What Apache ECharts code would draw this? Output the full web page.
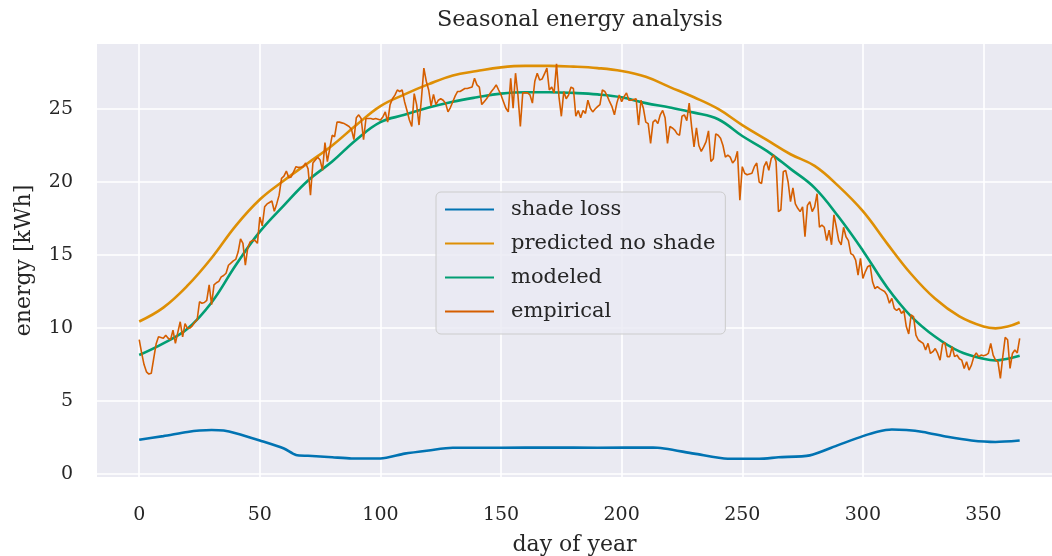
<!DOCTYPE html>
<html><head><meta charset="utf-8">
<script src="https://cdn.jsdelivr.net/npm/echarts@6/dist/echarts.min.js"></script>
<style>html,body{margin:0;padding:0;background:#fff}#c{width:1052px;height:556px}</style>
</head><body><div id="c"></div>
<script>
const xTicks = [0, 50, 100, 150, 200, 250, 300, 350];
const yTicks = [0, 5, 10, 15, 20, 25];

const curveDays = [0,10,20,30,40,50,60,70,80,90,100,110,120,130,140,150,160,170,180,190,200,210,220,230,240,250,260,270,280,290,300,310,320,330,340,350,355,360,365];
const predictedNoShade = [10.45,11.4,12.9,14.8,17.0,18.8,20.1,21.3,22.5,23.9,25.2,26.0,26.7,27.3,27.6,27.85,27.95,27.95,27.9,27.8,27.6,27.2,26.5,25.8,25.0,23.9,22.9,21.9,21.1,19.7,18.0,15.8,13.7,12.0,10.8,10.1,9.98,10.1,10.4];
const modeled = [8.15,8.95,9.95,11.75,14.3,16.6,18.4,20.1,21.4,22.9,24.1,24.6,25.1,25.5,25.8,26.05,26.15,26.15,26.1,26.0,25.8,25.4,25.1,24.75,24.3,23.15,22.15,20.9,19.6,17.6,15.3,12.8,10.8,9.4,8.4,7.9,7.78,7.9,8.1];

const shadeDays = [0,10,20,25,30,35,40,50,60,65,70,80,88,100,110,120,130,150,170,190,213,230,244,257,265,278,290,300,306,312,318,325,335,345,355,365];
const shadeLoss = [2.35,2.6,2.88,2.98,3.02,2.98,2.8,2.3,1.75,1.3,1.25,1.15,1.07,1.07,1.4,1.62,1.8,1.8,1.82,1.8,1.82,1.4,1.05,1.05,1.15,1.28,2.0,2.6,2.9,3.05,3.02,2.88,2.55,2.3,2.2,2.3];

const empirical = [
9.2,8.3,7.5,7.0,6.85,6.9,7.9,8.9,9.4,9.35,
9.3,9.5,9.3,9.2,9.86,8.95,9.7,10.43,9.4,10.3,
9.98,10.0,10.15,10.4,10.55,11.8,11.7,11.75,11.9,12.95,
11.6,12.95,13.1,13.2,13.5,13.6,13.75,14.3,14.45,14.6,
14.7,15.2,16.1,15.8,14.3,15.5,15.9,16.0,16.0,15.8,
17.6,17.0,18.3,18.5,18.6,18.7,18.0,18.5,19.1,20.25,
20.4,20.75,20.3,20.35,20.7,21.05,21.0,21.0,21.05,21.3,
20.9,19.1,21.3,21.5,21.7,21.5,20.8,22.7,21.4,22.3,
23.2,23.1,24.1,24.1,24.05,24.0,23.9,23.8,23.6,22.9,
24.4,24.6,24.35,22.9,24.35,24.35,24.35,24.3,24.35,24.3,
24.25,24.45,24.8,24.1,25.3,25.7,25.95,26.3,26.2,26.3,
25.5,24.9,24.25,23.8,26.05,25.3,23.9,25.7,27.8,26.9,
26.3,25.2,26.0,25.3,25.6,25.7,25.6,25.4,24.8,25.1,
25.5,25.9,26.2,26.2,26.3,26.4,26.4,26.45,26.5,27.1,
26.65,26.5,25.3,25.5,25.7,25.96,26.2,26.4,26.65,26.3,
25.96,25.5,25.05,24.8,27.1,25.05,27.45,25.96,23.8,26.1,
26.1,26.1,25.96,25.4,26.9,27.45,26.99,27.05,27.4,27.8,
26.3,26.5,26.1,28.1,25.85,24.5,26.2,25.7,25.96,26.5,
26.4,24.5,24.9,24.4,24.9,24.7,25.6,25.05,24.8,25.0,
25.16,25.3,26.3,26.2,25.9,25.5,25.16,24.6,25.4,25.96,
25.5,25.85,26.1,25.6,25.6,25.65,25.7,23.9,25.6,25.05,
24.1,24.0,22.65,24.1,24.25,24.0,24.6,24.9,24.4,22.65,
23.8,23.7,23.56,23.3,23.2,24.5,24.6,24.2,25.4,23.79,
22.4,23.7,22.5,22.1,22.4,22.76,23.5,21.4,21.6,23.3,
23.2,23.0,22.5,21.7,21.85,21.7,21.3,21.5,22.1,18.76,
21.05,20.6,20.5,20.55,20.6,21.05,21.3,20.0,19.9,21.05,
21.4,20.8,21.6,21.85,21.4,17.97,18.1,20.7,20.8,20.0,
18.65,19.6,18.5,18.2,17.97,18.3,16.25,18.4,18.65,17.97,
18.3,19.2,16.9,17.05,16.9,15.99,16.7,15.7,17.75,16.9,
15.99,15.7,16.9,16.25,15.99,15.1,14.99,14.65,13.63,14.77,
13.4,13.85,14.2,14.3,13.17,12.7,12.83,12.7,12.6,12.5,
12.25,11.7,12.03,11.35,11.2,11.35,11.0,11.2,10.1,9.6,
10.9,10.78,9.52,9.18,9.06,8.95,8.5,8.95,8.26,8.38,
8.6,8.26,7.8,8.9,9.0,8.04,8.04,8.72,8.04,8.15,
7.9,7.8,7.23,7.69,7.12,7.46,8.04,8.3,8.04,8.15,
8.1,8.15,8.26,8.95,8.15,7.8,7.69,6.55,8.04,9.36,
9.2,7.23,8.26,8.5,8.3,9.3
];

const FONT = 'DejaVu Serif';
const TXT = '#262626';
const pairs = (xs, ys) => xs.map((x, i) => [x, ys[i]]);

const chart = echarts.init(document.getElementById('c'), null, {renderer: 'canvas'});
chart.setOption({
  animation: false,
  backgroundColor: '#ffffff',
  title: {
    text: 'Seasonal energy analysis', left: 437, top: 9, padding: 0,
    textStyle: {fontFamily: FONT, fontSize: 22.4, fontWeight: 'normal', color: TXT}
  },
  grid: {left: 97, right: 0, top: 44, bottom: 79, show: true, backgroundColor: '#EAEAF2', borderWidth: 0,
         containLabel: false, outerBoundsMode: 'none'},
  legend: {
    orient: 'vertical', left: 436, top: 192,
    padding: [7, 10, 12, 8], itemWidth: 49, itemHeight: 20, itemGap: 13,
    backgroundColor: 'rgba(234,234,242,0.8)', borderColor: '#cccccc', borderWidth: 1, borderRadius: 5,
    itemStyle: {opacity: 0},
    textStyle: {fontFamily: FONT, fontSize: 21, color: TXT, padding: [0, 0, 0, 12]},
    data: ['shade loss', 'predicted no shade', 'modeled', 'empirical']
  },
  xAxis: {
    type: 'value', min: -17.5, max: 378.4,
    axisLine: {show: false}, axisTick: {show: false, customValues: xTicks},
    axisLabel: {customValues: xTicks, margin: 29, fontFamily: FONT, fontSize: 19, color: TXT},
    splitLine: {show: true, lineStyle: {color: '#ffffff', width: 1.6}},
    name: 'day of year', nameLocation: 'middle', nameGap: 57,
    nameTextStyle: {fontFamily: FONT, fontSize: 22, color: TXT}
  },
  yAxis: {
    type: 'value', min: -0.2, max: 29.45,
    axisLine: {show: false}, axisTick: {show: false, customValues: yTicks},
    axisLabel: {customValues: yTicks, margin: 24, fontFamily: FONT, fontSize: 19, color: TXT},
    splitLine: {show: true, lineStyle: {color: '#ffffff', width: 1.6}},
    name: 'energy [kWh]', nameLocation: 'middle', nameGap: 62,
    nameTextStyle: {fontFamily: FONT, fontSize: 22, color: TXT}
  },
  series: [
    {name: 'shade loss', type: 'line', data: pairs(shadeDays, shadeLoss), symbol: 'none', smooth: 0.25,
     lineStyle: {color: '#0173B2', width: 2.6}, itemStyle: {color: '#0173B2'}},
    {name: 'predicted no shade', type: 'line', data: pairs(curveDays, predictedNoShade), symbol: 'none', smooth: 0.4,
     lineStyle: {color: '#DE8F05', width: 2.6}, itemStyle: {color: '#DE8F05'}},
    {name: 'modeled', type: 'line', data: pairs(curveDays, modeled), symbol: 'none', smooth: 0.4,
     lineStyle: {color: '#029E73', width: 2.6}, itemStyle: {color: '#029E73'}},
    {name: 'empirical', type: 'line', data: empirical.map((v, i) => [i, v]), symbol: 'none',
     lineStyle: {color: '#D55E00', width: 1.6}, itemStyle: {color: '#D55E00'}}
  ]
});
</script>
</body></html>
